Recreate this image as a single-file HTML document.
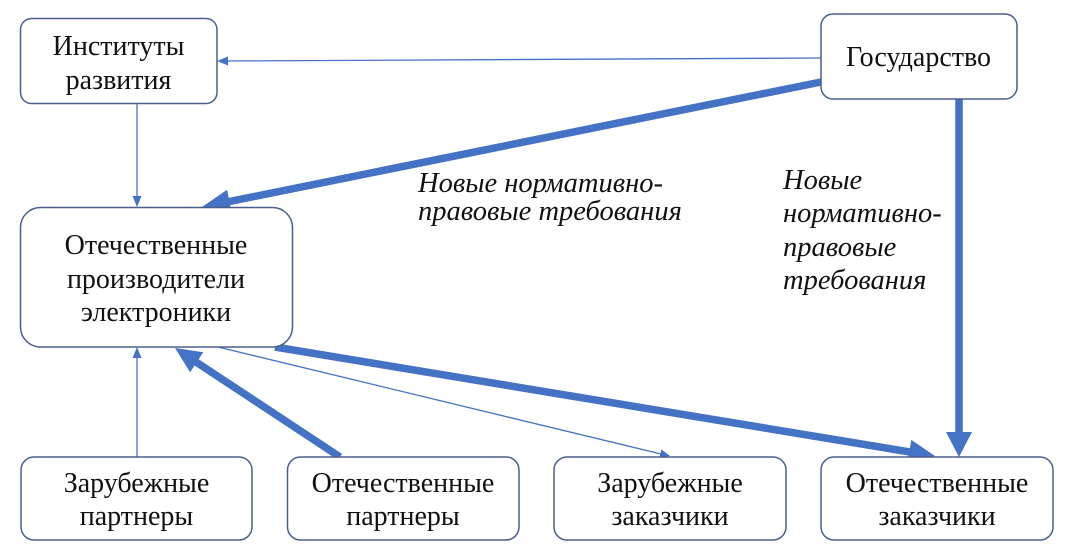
<!DOCTYPE html>
<html>
<head>
<meta charset="utf-8">
<style>
html,body{margin:0;padding:0;background:#fff;}
body{width:1065px;height:556px;position:relative;overflow:hidden;}
svg{display:block;position:absolute;left:0;top:0;}
.lbl{position:absolute;font-family:"Liberation Serif","Noto Serif CJK SC","DejaVu Serif",serif;color:#111;white-space:nowrap;text-align:center;font-size:28px;}
.it{position:absolute;font-family:"Liberation Serif","Noto Serif CJK SC","DejaVu Serif",serif;font-style:italic;color:#111;white-space:nowrap;font-size:28.5px;text-align:left;}
.box{fill:#fff;stroke:#4B5F8E;stroke-width:1.5;}
.thin{stroke:#4472C4;stroke-width:1.3;fill:none;}
.thick{stroke:#4472C4;stroke-width:7.5;fill:none;}
.ah{fill:#4472C4;}
</style>
</head>
<body>
<svg width="1065" height="556" viewBox="0 0 1065 556" xmlns="http://www.w3.org/2000/svg">
  <line class="thin" x1="821" y1="58" x2="226" y2="61"/>
  <polygon class="ah" points="217,61 228,56.5 228,65.5"/>
  <line class="thin" x1="137" y1="104" x2="137" y2="198"/>
  <polygon class="ah" points="137,207 132.5,196 141.5,196"/>
  <line class="thin" x1="137" y1="457" x2="137" y2="356"/>
  <polygon class="ah" points="137,347 132.5,358 141.5,358"/>
  <line class="thin" x1="218" y1="347" x2="661" y2="454"/>
  <polygon class="ah" points="670,456 659.3,458.2 661.4,449.4"/>

  <line class="thick" x1="821" y1="82" x2="222" y2="203"/>
  <polygon class="ah" points="202,207 227.1,189.7 231.8,213.2"/>
  <line class="thick" x1="959" y1="99" x2="959" y2="436"/>
  <polygon class="ah" points="959,457 946,432 972,432"/>
  <line class="thick" x1="275" y1="347" x2="916" y2="453"/>
  <polygon class="ah" points="935,456 907.4,463.6 911.3,439.9"/>
  <line class="thick" x1="340" y1="457" x2="193" y2="360"/>
  <polygon class="ah" points="175,348 203.3,352.3 190.1,372.3"/>

  <rect class="box" x="20.5" y="18.5" width="196.5" height="85" rx="11"/>
  <rect class="box" x="821" y="14" width="196" height="85" rx="12"/>
  <rect class="box" x="20.5" y="207.5" width="272" height="139.5" rx="20"/>
  <rect class="box" x="21" y="457" width="231" height="83" rx="13"/>
  <rect class="box" x="287.5" y="457" width="231.5" height="83" rx="13"/>
  <rect class="box" x="554" y="457" width="232" height="83" rx="13"/>
  <rect class="box" x="821" y="457" width="232" height="83" rx="13"/>
</svg>

<div class="lbl" style="left:20px;width:197px;top:30px;line-height:34px;">Институты<br>развития</div>
<div class="lbl" style="left:820px;width:197px;top:41px;line-height:34px;">Государство</div>
<div class="lbl" style="left:20px;width:272px;top:229px;line-height:33.5px;">Отечественные<br>производители<br>электроники</div>
<div class="lbl" style="left:21px;width:231px;top:467px;line-height:33px;">Зарубежные<br>партнеры</div>
<div class="lbl" style="left:287px;width:232px;top:467px;line-height:33px;">Отечественные<br>партнеры</div>
<div class="lbl" style="left:554px;width:232px;top:467px;line-height:33px;">Зарубежные<br>заказчики</div>
<div class="lbl" style="left:821px;width:232px;top:467px;line-height:33px;">Отечественные<br>заказчики</div>

<div class="it" style="left:418px;top:170px;line-height:28px;">Новые нормативно-<br>правовые требования</div>
<div class="it" style="left:783px;top:164px;line-height:33.3px;">Новые<br>нормативно-<br>правовые<br>требования</div>
</body>
</html>
